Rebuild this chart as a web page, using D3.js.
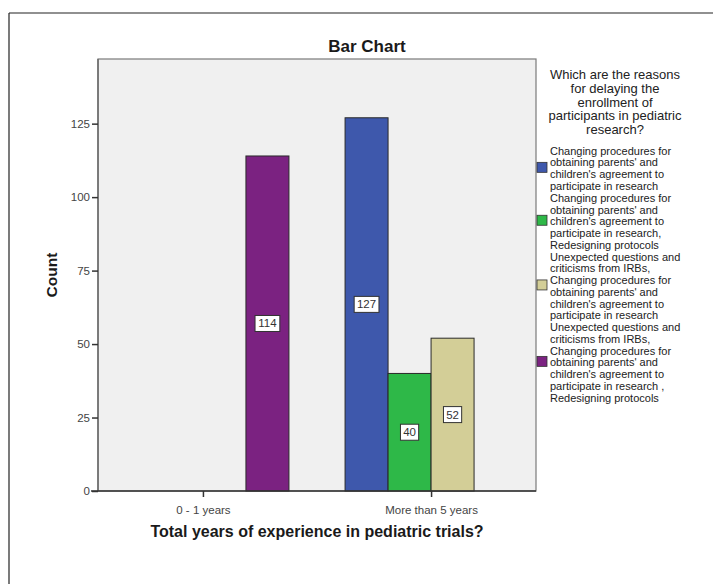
<!DOCTYPE html>
<html>
<head>
<meta charset="utf-8">
<script src="https://cdn.jsdelivr.net/npm/d3@7"></script>
<style>
  html, body { margin: 0; padding: 0; background: #ffffff; }
  svg { display: block; font-family: "Liberation Sans", Arial, sans-serif; }
</style>
</head>
<body>
<svg id="chart" width="713" height="584"></svg>
<script>
// Categories on the x axis
const categories = ["0 - 1 years", "More than 5 years"];

// Response groups (legend entries), wrapped as displayed
const seriesLabels = [
  ["Changing procedures for", "obtaining parents' and", "children's agreement to", "participate in research"],
  ["Changing procedures for", "obtaining parents' and", "children's agreement to", "participate in research,", "Redesigning protocols"],
  ["Unexpected questions and", "criticisms from IRBs,", "Changing procedures for", "obtaining parents' and", "children's agreement to", "participate in research"],
  ["Unexpected questions and", "criticisms from IRBs,", "Changing procedures for", "obtaining parents' and", "children's agreement to", "participate in research ,", "Redesigning protocols"]
];
const seriesColors = ["#3e58ac", "#2eb848", "#d3ce97", "#7b2281"];

// Counts per group, one value per category
const countsChanging = [0, 127];
const countsChangingRedesign = [0, 40];
const countsIRBChanging = [0, 52];
const countsIRBChangingRedesign = [114, 0];
const seriesValues = [countsChanging, countsChangingRedesign, countsIRBChanging, countsIRBChangingRedesign];

const yTicks = [0, 25, 50, 75, 100, 125];
const yMax = 147;

const legendTitle = ["Which are the reasons", "for delaying the", "enrollment of", "participants in pediatric", "research?"];

const svg = d3.select("#chart");

// Outer frame
svg.append("line").attr("x1", 9).attr("x2", 713).attr("y1", 13).attr("y2", 13)
  .attr("stroke", "#222").attr("stroke-width", 1.2);
svg.append("line").attr("x1", 9).attr("x2", 9).attr("y1", 13).attr("y2", 584)
  .attr("stroke", "#222").attr("stroke-width", 1.2);

const plot = { left: 98, top: 59, right: 536, bottom: 491 };

const x = d3.scalePoint().domain(categories).range([plot.left, plot.right]).padding(0.46);
const slot = d3.scaleBand().domain(d3.range(seriesValues.length)).range([-86, 86]).padding(0);
const y = d3.scaleLinear().domain([0, yMax]).range([plot.bottom, plot.top]);

// Plot background
svg.append("rect")
  .attr("x", plot.left).attr("y", plot.top)
  .attr("width", plot.right - plot.left).attr("height", plot.bottom - plot.top)
  .attr("fill", "#f0f0f0").attr("stroke", "#7a7a7a").attr("stroke-width", 1.2);

// Title
svg.append("text")
  .attr("x", 367).attr("y", 52)
  .attr("text-anchor", "middle")
  .attr("font-size", 17).attr("font-weight", "bold").attr("fill", "#1a1a1a")
  .text("Bar Chart");

// Bars
const barData = [];
seriesValues.forEach((vals, s) => {
  vals.forEach((v, c) => {
    if (v > 0) barData.push({ s, cat: categories[c], v });
  });
});

const bars = svg.append("g");
bars.selectAll("rect").data(barData).join("rect")
  .attr("x", d => x(d.cat) + slot(d.s))
  .attr("y", d => y(d.v))
  .attr("width", slot.bandwidth())
  .attr("height", d => y(0) - y(d.v))
  .attr("fill", d => seriesColors[d.s])
  .attr("stroke", "#2a2a2a").attr("stroke-width", 1);

// Value labels at mid-height of each bar
const labels = svg.append("g");
barData.forEach(d => {
  const cx = x(d.cat) + slot(d.s) + slot.bandwidth() / 2;
  const cy = y(d.v / 2);
  const txt = String(d.v);
  const w = txt.length * 6.6 + 5;
  labels.append("rect")
    .attr("x", cx - w / 2).attr("y", cy - 8)
    .attr("width", w).attr("height", 16)
    .attr("fill", "#ffffff").attr("stroke", "#333").attr("stroke-width", 1);
  labels.append("text")
    .attr("x", cx).attr("y", cy + 4)
    .attr("text-anchor", "middle")
    .attr("font-size", 11.5).attr("fill", "#333")
    .text(txt);
});

// Y axis
const yAxis = svg.append("g")
  .attr("transform", `translate(${plot.left},0)`)
  .call(d3.axisLeft(y).tickValues(yTicks).tickSize(6).tickPadding(2).tickSizeOuter(0));
yAxis.select(".domain").attr("stroke", "#6a6a6a").attr("stroke-width", 1.5)
  .attr("d", `M0,${plot.bottom}V${plot.top}`);
yAxis.selectAll(".tick line").attr("stroke", "#333").attr("stroke-width", 1.5);
yAxis.selectAll(".tick text")
  .attr("font-size", 11.5).attr("fill", "#444")
  .attr("font-family", "Liberation Sans, Arial, sans-serif");

// X axis
const xAxis = svg.append("g")
  .attr("transform", `translate(0,${plot.bottom})`)
  .call(d3.axisBottom(x).tickSize(6).tickPadding(9).tickSizeOuter(0));
xAxis.select(".domain").attr("stroke", "#333").attr("stroke-width", 1.5)
  .attr("d", `M${plot.left - 7},0H${plot.right}`);
xAxis.selectAll(".tick line").attr("stroke", "#333").attr("stroke-width", 1.5);
xAxis.selectAll(".tick text")
  .attr("font-size", 11.5).attr("fill", "#444")
  .attr("font-family", "Liberation Sans, Arial, sans-serif");

// Axis titles
svg.append("text")
  .attr("transform", "translate(57,275) rotate(-90)")
  .attr("text-anchor", "middle")
  .attr("font-size", 15.5).attr("font-weight", "bold").attr("fill", "#1a1a1a")
  .text("Count");

svg.append("text")
  .attr("x", 317).attr("y", 537)
  .attr("text-anchor", "middle")
  .attr("font-size", 16).attr("font-weight", "bold").attr("fill", "#1a1a1a")
  .text("Total years of experience in pediatric trials?");

// Legend
const legend = svg.append("g");
legend.selectAll("text.lt").data(legendTitle).join("text")
  .attr("class", "lt")
  .attr("x", 615).attr("y", (d, i) => 79 + i * 13.8)
  .attr("text-anchor", "middle")
  .attr("font-size", 13).attr("fill", "#222")
  .text(d => d);

const lineH = 11.76;
const firstLine = 150.7;
let lineIdx = 0;
seriesLabels.forEach((lines, s) => {
  const start = lineIdx;
  lines.forEach(line => {
    legend.append("text")
      .attr("x", 550).attr("y", firstLine + lineIdx * lineH + 4)
      .attr("font-size", 11).attr("fill", "#222")
      .text(line);
    lineIdx++;
  });
  const center = firstLine + (start + (lines.length - 1) / 2) * lineH;
  legend.append("rect")
    .attr("x", 537).attr("y", center - 6)
    .attr("width", 10).attr("height", 10)
    .attr("fill", seriesColors[s]).attr("stroke", "#333").attr("stroke-width", 0.8);
});
</script>
</body>
</html>
